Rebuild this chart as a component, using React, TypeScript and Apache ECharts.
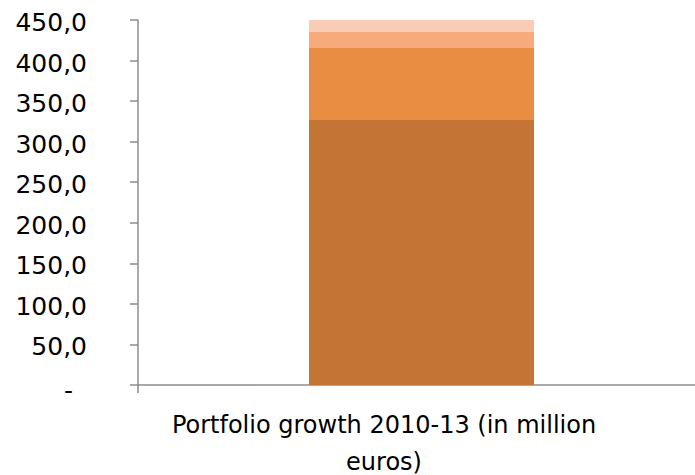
import React, { useEffect, useRef } from "react";
import * as echarts from "echarts";

const categories = ["Portfolio growth 2010-13 (in million euros)"];
const segmentA = [326.7];
const segmentB = [88.8];
const segmentC = [19.7];
const segmentD = [14.8];
const segmentColors = ["#C47535", "#E88D42", "#F7AA7B", "#F9CDB5"];
const yMin = 0;
const yMax = 450;
const yInterval = 50;

const FONT = "'DejaVu Sans', sans-serif";

export default function App() {
  const ref = useRef<HTMLDivElement>(null);
  useEffect(() => {
    document.body.style.margin = "0";
    const chart = echarts.init(ref.current!, null, { renderer: "svg" });
    const mk = (name: string, data: number[], color: string) => ({
      name,
      type: "bar",
      stack: "total",
      data,
      barWidth: 225,
      itemStyle: { color },
      emphasis: { disabled: true },
    });
    chart.setOption({
      animation: false,
      grid: {
        left: 138,
        top: 20,
        bottom: 90,
        right: -10,
        containLabel: false,
        outerBoundsMode: "none",
      },
      xAxis: {
        type: "category",
        data: categories,
        axisLine: { show: true, lineStyle: { color: "#8C8C8C", width: 1.5 } },
        axisTick: { show: true, length: 8, lineStyle: { color: "#8C8C8C", width: 1.5 } },
        axisLabel: {
          color: "#000",
          fontFamily: FONT,
          fontSize: 24,
          lineHeight: 37,
          margin: 21,
          padding: [0, 75, 0, 0],
          formatter: (v: string) => v.replace(" euros", "\neuros"),
        },
        splitLine: { show: false },
      },
      yAxis: {
        type: "value",
        min: yMin,
        max: yMax,
        interval: yInterval,
        axisLine: { show: true, lineStyle: { color: "#8C8C8C", width: 1.5 } },
        axisTick: { show: true, length: 8, lineStyle: { color: "#8C8C8C", width: 1.5 } },
        splitLine: { show: false },
        axisLabel: {
          color: "#000",
          fontFamily: FONT,
          fontSize: 25,
          margin: 51,
          padding: [5, 0, 0, 0],
          formatter: (v: number) => (v === 0 ? "{z|-}" : v.toFixed(1).replace(".", ",")),
          rich: {
            z: { fontFamily: FONT, fontSize: 25, color: "#000", padding: [5, 14, 0, 0] },
          },
        },
      },
      series: [
        mk("A", segmentA, segmentColors[0]),
        mk("B", segmentB, segmentColors[1]),
        mk("C", segmentC, segmentColors[2]),
        mk("D", segmentD, segmentColors[3]),
      ],
    });
    return () => chart.dispose();
  }, []);
  return <div ref={ref} style={{ width: 695, height: 475, overflow: "hidden", position: "relative" }} />;
}
